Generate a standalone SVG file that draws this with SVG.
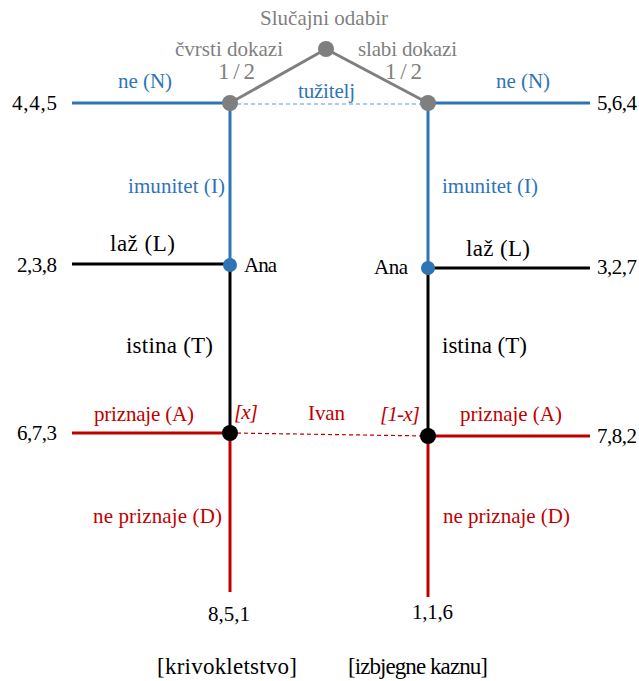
<svg xmlns="http://www.w3.org/2000/svg" width="639" height="681" viewBox="0 0 639 681">
<style>
text{font-family:"Liberation Serif","Times New Roman",Times,"DejaVu Serif",serif;font-size:21px}
.g{fill:#7f7f7f}
.b{fill:#2e75b6}
.r{fill:#c00000}
.k{fill:#000}
.big{font-size:23px}
.gl{stroke:#7f7f7f;stroke-width:3;fill:none}
.bl{stroke:#2e75b6;stroke-width:3;fill:none}
.kl{stroke:#000;stroke-width:3;fill:none}
.rl{stroke:#c00000;stroke-width:3;fill:none}
.bd{stroke:#5b9bd5;stroke-width:1.2;stroke-dasharray:4 3;fill:none}
.rd{stroke:#c00000;stroke-width:1.2;stroke-dasharray:4 3;fill:none}
</style>
<rect width="639" height="681" fill="#fff"/>
<g id="connectors">
<line class="gl" x1="326" y1="49" x2="230" y2="103"/>
<line class="gl" x1="326" y1="49" x2="428" y2="103"/>
<line class="bd" x1="230" y1="104" x2="428" y2="104"/>
<line class="bl" x1="72" y1="103" x2="230" y2="103"/>
<line class="bl" x1="428" y1="103" x2="590" y2="103"/>
<line class="bl" x1="230" y1="103" x2="230" y2="265"/>
<line class="bl" x1="428" y1="103" x2="428" y2="268"/>
<line class="kl" x1="72" y1="264" x2="230" y2="264"/>
<line class="kl" x1="428" y1="268" x2="590" y2="268"/>
<line class="kl" x1="230" y1="265" x2="230" y2="433"/>
<line class="kl" x1="428" y1="268" x2="428" y2="436"/>
<line class="rd" x1="230" y1="433" x2="428" y2="436"/>
<line class="rl" x1="72" y1="433" x2="230" y2="433"/>
<line class="rl" x1="428" y1="436" x2="590" y2="436"/>
<line class="rl" x1="230" y1="433" x2="230" y2="592"/>
<line class="rl" x1="428" y1="436" x2="428" y2="597"/>
</g>
<g id="chance">
<circle cx="326" cy="49" r="8" fill="#7f7f7f"/>
<text class="g" x="260" y="25" textLength="128">Slučajni odabir</text>
<text class="g" x="175" y="56" textLength="108">čvrsti dokazi</text>
<text class="g big" x="218" y="79" textLength="37">1/2</text>
<text class="g" x="358" y="56" textLength="99">slabi dokazi</text>
<text class="g big" x="385" y="79" textLength="37">1/2</text>
</g>
<g id="tuzitelj-left">
<circle cx="230" cy="103" r="8" fill="#7f7f7f"/>
<text class="b" x="118" y="88" textLength="54">ne (N)</text>
<text class="k" x="12" y="110" textLength="45">4,4,5</text>
<text class="b" x="128" y="193" textLength="97">imunitet (I)</text>
</g>
<g id="tuzitelj-right">
<circle cx="428" cy="103" r="8" fill="#7f7f7f"/>
<text class="b" x="496" y="88" textLength="54">ne (N)</text>
<text class="k" x="597" y="110" textLength="40">5,6,4</text>
<text class="b" x="442" y="193" textLength="96">imunitet (I)</text>
</g>
<g id="tuzitelj-label">
<text class="b" x="298" y="98" textLength="57">tužitelj</text>
</g>
<g id="ana-left">
<circle cx="230" cy="265" r="7" fill="#2e75b6"/>
<text class="k" x="244" y="272" font-size="19" textLength="33">Ana</text>
<text class="k big" x="110" y="251" textLength="65">laž (L)</text>
<text class="k" x="17" y="272" textLength="40">2,3,8</text>
<text class="k big" x="126" y="353" textLength="87">istina (T)</text>
</g>
<g id="ana-right">
<circle cx="428" cy="268" r="7" fill="#2e75b6"/>
<text class="k" x="374" y="274" font-size="19" textLength="34">Ana</text>
<text class="k big" x="466" y="256" textLength="64">laž (L)</text>
<text class="k" x="597" y="274" textLength="40">3,2,7</text>
<text class="k big" x="442" y="353" textLength="85">istina (T)</text>
</g>
<g id="ivan-left">
<circle cx="230" cy="433" r="8" fill="#000"/>
<text class="r" x="94" y="421" textLength="100">priznaje (A)</text>
<text class="r" x="234" y="419" font-style="italic" textLength="24">[x]</text>
<text class="k" x="17" y="440" textLength="40">6,7,3</text>
<text class="r" x="93" y="523" textLength="129">ne priznaje  (D)</text>
<text class="k" x="208" y="621" textLength="42">8,5,1</text>
</g>
<g id="ivan-right">
<circle cx="428" cy="436" r="8" fill="#000"/>
<text class="r" x="460" y="421" textLength="102">priznaje (A)</text>
<text class="r" x="380" y="421" font-style="italic" textLength="40">[1-x]</text>
<text class="k" x="597" y="443" textLength="40">7,8,2</text>
<text class="r" x="443" y="523" textLength="127">ne priznaje  (D)</text>
<text class="k" x="412" y="619" textLength="41">1,1,6</text>
</g>
<g id="ivan-label">
<text class="r" x="308" y="420" textLength="37">Ivan</text>
</g>
<g id="captions">
<text class="k big" x="157" y="674" textLength="140">[krivokletstvo]</text>
<text class="k big" x="348" y="674" textLength="140">[izbjegne kaznu]</text>
</g>
</svg>
